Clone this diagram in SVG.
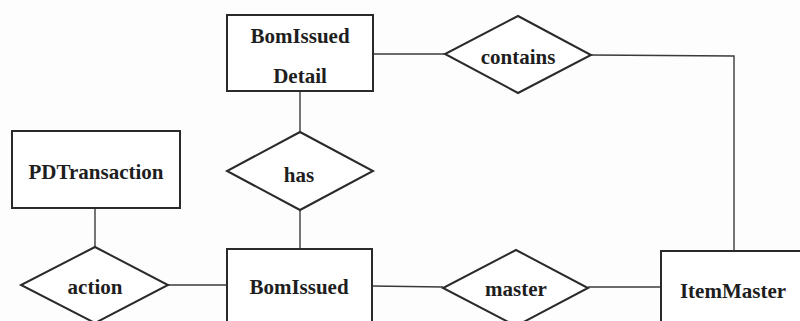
<svg xmlns="http://www.w3.org/2000/svg" width="800" height="321" viewBox="0 0 800 321">
<style>
.shape{fill:#fff;stroke:#2a2a2a;stroke-width:2}
.conn{fill:none;stroke:#3a3a3a;stroke-width:1.4}
text{font-family:"Liberation Serif","Times New Roman",serif;font-weight:bold;font-size:21px;fill:#1e1e1e;text-anchor:middle}
</style>
<rect width="800" height="321" fill="#fdfdfd"/>
<g id="connectors">
<line class="conn" x1="373" y1="54" x2="445" y2="54"/>
<polyline class="conn" points="591,55 734,56 734,251"/>
<line class="conn" x1="300" y1="91" x2="300" y2="132"/>
<line class="conn" x1="300" y1="210" x2="300" y2="249"/>
<line class="conn" x1="95" y1="208" x2="95" y2="247"/>
<line class="conn" x1="168" y1="285" x2="227" y2="285"/>
<line class="conn" x1="372" y1="286" x2="443" y2="287"/>
<line class="conn" x1="588" y1="287" x2="661" y2="287"/>
</g>
<g id="BomIssuedDetail">
<rect class="shape" x="227" y="15" width="146" height="76"/>
<text x="300" y="43">BomIssued</text>
<text x="300" y="83">Detail</text>
</g>
<g id="contains">
<polygon class="shape" points="518,16 591,55 518,93 445,54"/>
<text x="518" y="64">contains</text>
</g>
<g id="PDTransaction">
<rect class="shape" x="12" y="131" width="168" height="77"/>
<text x="96" y="179">PDTransaction</text>
</g>
<g id="has">
<polygon class="shape" points="300,132 373,171 300,210 227,171"/>
<text x="299" y="182">has</text>
</g>
<g id="action">
<polygon class="shape" points="95,247 168,285 95,323 21,285"/>
<text x="95" y="294">action</text>
</g>
<g id="BomIssued">
<rect class="shape" x="227" y="249" width="145" height="80"/>
<text x="299" y="294">BomIssued</text>
</g>
<g id="master">
<polygon class="shape" points="516,250 588,288 516,326 443,288"/>
<text x="516" y="296">master</text>
</g>
<g id="ItemMaster">
<rect class="shape" x="661" y="251" width="150" height="80"/>
<text x="733" y="298">ItemMaster</text>
</g>
</svg>
